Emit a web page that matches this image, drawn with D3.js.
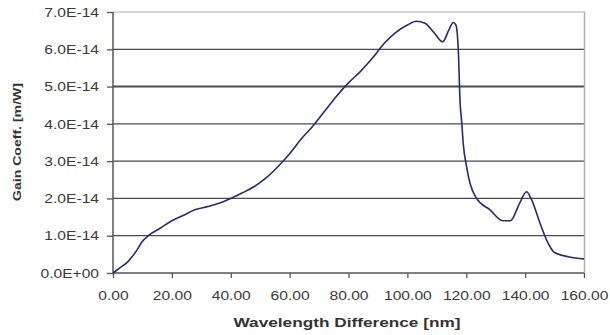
<!DOCTYPE html>
<html>
<head>
<meta charset="utf-8">
<script src="https://cdn.jsdelivr.net/npm/d3@7"></script>
<style>
  body { margin: 0; background: #fff; }
  text { font-family: "Liberation Sans", Arial, sans-serif; }
</style>
</head>
<body>
<div id="chart"></div>
<script>
// wavelength difference in nm
const wavelength = [0, 2, 5, 8, 10, 12, 16, 20, 24, 28, 32, 36, 40, 44, 48, 52, 56, 60, 64, 68, 72, 76, 80, 84, 88, 92, 96, 100, 103, 106, 109, 112, 114, 115.6, 116.5, 117.3, 117.9, 118.5, 119, 120, 121.3, 123.5, 128, 132.5, 135, 138, 140.5, 142, 145, 147.5, 150, 155, 160];
// gain coefficient, in units of 1e-14 m/W
const gain = [0, 0.12, 0.3, 0.6, 0.85, 1.0, 1.2, 1.4, 1.55, 1.7, 1.78, 1.87, 2.0, 2.15, 2.32, 2.55, 2.85, 3.2, 3.6, 3.95, 4.35, 4.75, 5.1, 5.4, 5.75, 6.15, 6.45, 6.65, 6.75, 6.7, 6.45, 6.2, 6.5, 6.72, 6.65, 5.98, 4.6, 4.0, 3.45, 2.9, 2.4, 2.0, 1.7, 1.4, 1.4, 1.85, 2.18, 2.0, 1.35, 0.85, 0.55, 0.43, 0.38];

const xTicks = [0, 20, 40, 60, 80, 100, 120, 140, 160];
const xTickLabels = ["0.00", "20.00", "40.00", "60.00", "80.00", "100.00", "120.00", "140.00", "160.00"];
const yTicks = [0, 1, 2, 3, 4, 5, 6, 7];
const yTickLabels = ["0.0E+00", "1.0E-14", "2.0E-14", "3.0E-14", "4.0E-14", "5.0E-14", "6.0E-14", "7.0E-14"];

const width = 610, height = 335;
const plotLeft = 113, plotRight = 584, plotTop = 12, plotBottom = 273;
const stretch = 1.2; // the source picture is widened horizontally

const svg = d3.select('#chart').append('svg')
  .attr('width', width)
  .attr('height', height);

const x = d3.scaleLinear().domain([0, 160]).range([plotLeft, plotRight]);
const y = d3.scaleLinear().domain([0, 7]).range([plotBottom, plotTop]);

// horizontal gridlines
svg.append('g')
  .selectAll('line')
  .data(yTicks.filter(d => d > 0))
  .enter()
  .append('line')
  .attr('x1', plotLeft)
  .attr('x2', plotRight + 1)
  .attr('y1', d => y(d))
  .attr('y2', d => y(d))
  .attr('stroke', d => d === 7 ? '#b0b0b0' : '#4a4a4a')
  .attr('stroke-width', d => d === 5 ? 2 : 1.2);

// right border of plot area
svg.append('line')
  .attr('x1', plotRight + 0.5).attr('x2', plotRight + 0.5)
  .attr('y1', plotTop).attr('y2', plotBottom)
  .attr('stroke', '#b0b0b0')
  .attr('stroke-width', 1.5);

// axes
const xAxis = svg.append('g')
  .attr('transform', `translate(0, ${plotBottom})`)
  .call(d3.axisBottom(x).tickValues(xTicks).tickSize(5).tickPadding(13)
    .tickFormat((d, i) => xTickLabels[i]));

const yAxis = svg.append('g')
  .attr('transform', `translate(${plotLeft}, 0)`)
  .call(d3.axisLeft(y).tickValues(yTicks).tickSize(6).tickPadding(8)
    .tickFormat((d, i) => yTickLabels[i]));

[xAxis, yAxis].forEach(g => {
  g.select('.domain').attr('stroke', '#555').attr('stroke-width', 1.5);
  g.selectAll('.tick line').attr('stroke', '#555').attr('stroke-width', 1.3);
  g.selectAll('.tick text')
    .attr('fill', '#3a3a3a')
    .style('font-size', '13px')
    .style('font-family', '"Liberation Sans", Arial, sans-serif');
});
xAxis.select('.domain').attr('d', `M${plotLeft},0H${plotRight}`);
yAxis.select('.domain').attr('d', `M0,${plotTop}V${plotBottom}`);

// widen tick labels like the source
svg.selectAll('.tick text').each(function() {
  const w = this.getComputedTextLength();
  d3.select(this)
    .attr('textLength', w * stretch)
    .attr('lengthAdjust', 'spacingAndGlyphs');
});

// the gain curve
const line = d3.line()
  .x((d, i) => x(wavelength[i]))
  .y(d => y(d))
  .curve(d3.curveMonotoneX);

svg.append('path')
  .datum(gain)
  .attr('fill', 'none')
  .attr('stroke', '#2a2a70')
  .attr('stroke-width', 1.6)
  .attr('stroke-linejoin', 'round')
  .attr('d', line);

// axis titles
svg.append('text')
  .attr('x', 347)
  .attr('y', 327)
  .attr('text-anchor', 'middle')
  .attr('fill', '#333')
  .style('font-size', '12px')
  .style('font-weight', 'bold')
  .attr('textLength', 227)
  .attr('lengthAdjust', 'spacingAndGlyphs')
  .text('Wavelength Difference [nm]');

svg.append('text')
  .attr('transform', 'rotate(-90)')
  .attr('x', -142)
  .attr('y', 21)
  .attr('text-anchor', 'middle')
  .attr('fill', '#333')
  .style('font-size', '10.5px')
  .style('font-weight', 'bold')
  .attr('textLength', 118)
  .attr('lengthAdjust', 'spacingAndGlyphs')
  .text('Gain Coeff. [m/W]');
</script>
</body>
</html>
